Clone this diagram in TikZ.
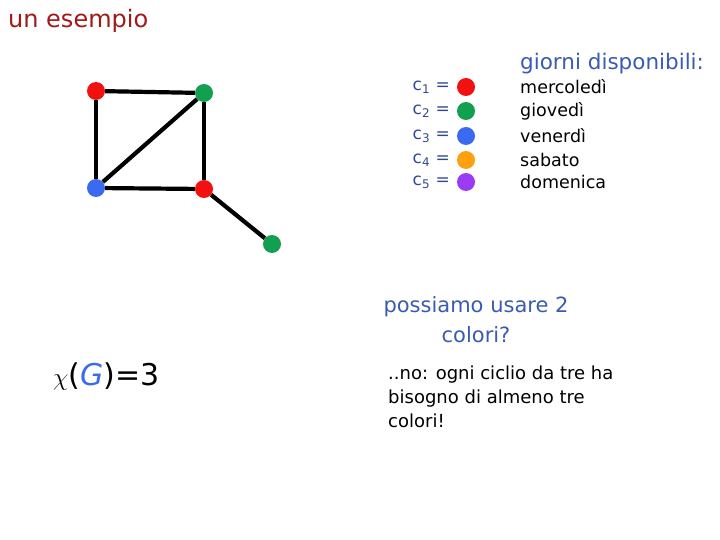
\documentclass[tikz,border=0pt]{standalone}
\usepackage{fontspec}
\setmainfont{DejaVu Sans}
\definecolor{titlered}{HTML}{A01818}
\definecolor{txtblue}{HTML}{3A5BB0}
\definecolor{cred}{HTML}{F21010}
\definecolor{cgreen}{HTML}{12A050}
\definecolor{cblue}{HTML}{3A6AF0}
\definecolor{corange}{HTML}{FFA010}
\definecolor{cpurple}{HTML}{9B3CF5}

\begin{document}
\begin{tikzpicture}[x=1pt,y=-1pt,
  vtx/.style={circle,fill,inner sep=0pt,minimum size=18pt},
  every node/.style={inner sep=0pt}]
  \useasboundingbox (0,0) rectangle (720,540);
  \node[anchor=base west,text=titlered,font=\fontsize{24}{28}\selectfont] (title) at (8,28) {un esempio};

  % il grafo
  \node[vtx,cred] (a) at (96,91) {};
  \node[vtx,cgreen] (b) at (204,93) {};
  \node[vtx,cblue] (c) at (96,188) {};
  \node[vtx,cred] (d) at (204,189) {};
  \node[vtx,cgreen] (e) at (272,244) {};
  \draw[line width=4.2pt] (a) -- (b);
  \draw[line width=4.2pt] (a) -- (c);
  \draw[line width=4.2pt] (b) -- (c);
  \draw[line width=4.2pt] (b) -- (d);
  \draw[line width=4.2pt] (c) -- (d);
  \draw[line width=4.2pt] (d) -- (e);

  % legenda
  \node[anchor=base west,text=txtblue,font=\fontsize{21.5}{24}\selectfont] (giorni) at (520,70) {giorni disponibili:};
  \foreach \i/\y/\col/\day in {1/87/cred/mercoledì,2/111/cgreen/giovedì,3/136/cblue/venerdì,4/160/corange/sabato,5/182/cpurple/domenica}{
    \node[vtx,\col] (dot\i) at (466,\y) {};
    \node[anchor=east,text=txtblue!80!black,font=\fontsize{17}{20}\selectfont] (lab\i) at (450,\y) {c\textsubscript{\i} =};
    \node[anchor=west,font=\fontsize{17.5}{20}\selectfont] (day\i) at (520,\y) {\day};
  }

  \node[align=center,text=txtblue,font=\fontsize{21}{30}\selectfont] (domanda) at (476,320) {possiamo usare 2\\colori?};
  \node[anchor=north west,align=left,font=\fontsize{18}{24}\selectfont] (risposta) at (388,366) {..no: ogni ciclio da tre ha\\bisogno di almeno tre\\colori!};
  \node[anchor=west,font=\fontsize{30}{34}\selectfont] (chi) at (53,377) {$\chi$(\textcolor{cblue}{\textit{G}})=3};
\end{tikzpicture}
\end{document}
